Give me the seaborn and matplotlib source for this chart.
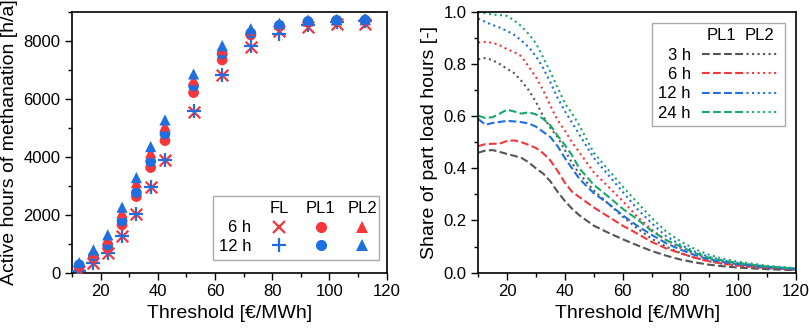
import numpy as np
import pandas as pd
import matplotlib
matplotlib.use("Agg")
import matplotlib.pyplot as plt
import matplotlib.text as mtext
import seaborn as sns
from matplotlib.lines import Line2D
from matplotlib.legend_handler import HandlerBase
from matplotlib.ticker import MultipleLocator, FormatStrFormatter

# --- data: left panel (active hours of methanation)
threshold_pts = [12.5, 17.5, 22.5, 27.5, 32.5, 37.5, 42.5, 52.5, 62.5, 72.5, 82.5, 92.5, 102.5, 112.5]
fl_6h = [40, 325, 670, 1267, 2027, 2948, 3891, 5560, 6826, 7803, 8330, 8494, 8590, 8600]
fl_12h = [40, 330, 680, 1270, 2030, 2950, 3890, 5570, 6840, 7810, 8230, 8560, 8640, 8680]
pl1_6h = [207, 497, 842, 1647, 2625, 3626, 4558, 6215, 7343, 8207, 8500, 8640, 8690, 8700]
pl1_12h = [266, 577, 956, 1785, 2763, 3834, 4789, 6446, 7550, 8270, 8540, 8670, 8710, 8720]
pl2_6h = [290, 670, 1153, 2072, 3108, 4144, 5065, 6653, 7700, 8380, 8580, 8690, 8720, 8730]
pl2_12h = [345, 784, 1302, 2258, 3280, 4351, 5272, 6860, 7838, 8420, 8610, 8720, 8740, 8750]

# --- data: right panel (share of part load hours)
threshold_line = [10, 12.5, 15, 17.5, 20, 22.5, 25, 27.5, 30, 32.5, 35, 37.5, 40, 42.5, 45,
                  50, 55, 60, 65, 70, 75, 80, 85, 90, 95, 100, 110, 120]
pl1_3h = [0.46, 0.468, 0.47, 0.463, 0.455, 0.448, 0.44, 0.423, 0.40, 0.38, 0.35, 0.31, 0.275, 0.245,
          0.22, 0.18, 0.153, 0.128, 0.105, 0.083, 0.065, 0.05, 0.039, 0.03, 0.024, 0.019, 0.013, 0.009]
pl1_6h_share = [0.485, 0.493, 0.494, 0.495, 0.505, 0.507, 0.50, 0.49, 0.478, 0.458, 0.43, 0.39, 0.345, 0.31,
                0.29, 0.25, 0.215, 0.18, 0.15, 0.118, 0.093, 0.074, 0.057, 0.043, 0.034, 0.027, 0.018, 0.012]
pl1_12h_share = [0.59, 0.567, 0.574, 0.578, 0.582, 0.58, 0.577, 0.572, 0.56, 0.54, 0.52, 0.485, 0.44, 0.40,
                 0.36, 0.305, 0.265, 0.22, 0.18, 0.145, 0.113, 0.088, 0.067, 0.05, 0.04, 0.032, 0.02, 0.013]
pl1_24h = [0.602, 0.593, 0.596, 0.61, 0.625, 0.618, 0.61, 0.615, 0.607, 0.59, 0.565, 0.525, 0.49, 0.45,
           0.40, 0.337, 0.292, 0.245, 0.205, 0.16, 0.125, 0.10, 0.075, 0.056, 0.045, 0.036, 0.023, 0.015]
pl2_3h = [0.818, 0.823, 0.815, 0.80, 0.782, 0.765, 0.735, 0.70, 0.655, 0.60, 0.555, 0.52, 0.47, 0.42,
          0.38, 0.315, 0.265, 0.215, 0.17, 0.13, 0.10, 0.075, 0.057, 0.043, 0.033, 0.027, 0.017, 0.011]
pl2_6h_share = [0.883, 0.885, 0.882, 0.872, 0.857, 0.846, 0.83, 0.79, 0.75, 0.70, 0.64, 0.585, 0.545, 0.50,
                0.462, 0.385, 0.33, 0.275, 0.215, 0.165, 0.125, 0.095, 0.072, 0.053, 0.041, 0.032, 0.02, 0.013]
pl2_12h_share = [0.975, 0.962, 0.95, 0.94, 0.927, 0.912, 0.89, 0.865, 0.83, 0.785, 0.73, 0.67, 0.62, 0.575,
                 0.53, 0.44, 0.375, 0.31, 0.245, 0.19, 0.14, 0.107, 0.08, 0.06, 0.046, 0.036, 0.023, 0.015]
pl2_24h = [1.0, 0.995, 0.99, 0.988, 0.985, 0.967, 0.945, 0.915, 0.88, 0.825, 0.77, 0.71, 0.65, 0.61,
           0.565, 0.46, 0.395, 0.33, 0.27, 0.21, 0.158, 0.12, 0.09, 0.068, 0.052, 0.042, 0.026, 0.017]

RED = "#F5363B"
BLUE = "#1F6FE0"
GREEN = "#18A86B"
GRAY = "#555555"


# legend helper: a text used as a legend "handle" (column headers)
class TextHandle:
    def __init__(self, s):
        self.s = s


class HandlerTextHandle(HandlerBase):
    def legend_artist(self, legend, orig_handle, fontsize, handlebox):
        w, h = handlebox.width, handlebox.height
        t = mtext.Text(x=-handlebox.xdescent + w / 2, y=-handlebox.ydescent + h / 2,
                       text=orig_handle.s, ha="center", va="center",
                       fontsize=fontsize, color="black")
        handlebox.add_artist(t)
        return t


sns.set_style("ticks")
plt.rcParams["font.family"] = ["Liberation Sans", "DejaVu Sans"]
for k in ["text.color", "axes.labelcolor", "xtick.color", "ytick.color", "axes.edgecolor"]:
    plt.rcParams[k] = "black"

fig = plt.figure(figsize=(8.09, 3.32), dpi=100)
ax1 = fig.add_axes([0.089, 0.179, 0.389, 0.785])
ax2 = fig.add_axes([0.591, 0.179, 0.393, 0.785])

# --- left: scatter points
scatter_series = [
    (fl_6h, RED, "x", 70, 1.6),
    (fl_12h, BLUE, "+", 90, 1.6),
    (pl1_6h, RED, "o", 60, 0),
    (pl1_12h, BLUE, "o", 60, 0),
    (pl2_6h, RED, "^", 65, 0),
    (pl2_12h, BLUE, "^", 65, 0),
]
for vals, col, mk, size, lw in scatter_series:
    df = pd.DataFrame({"threshold": threshold_pts, "hours": vals})
    sns.scatterplot(data=df, x="threshold", y="hours", ax=ax1, color=col, marker=mk,
                    s=size, linewidth=lw, edgecolor=col if lw else "none", zorder=3)

ax1.set_xlim(10, 120)
ax1.set_ylim(0, 9000)
ax1.xaxis.set_major_locator(MultipleLocator(20))
ax1.xaxis.set_minor_locator(MultipleLocator(10))
ax1.yaxis.set_major_locator(MultipleLocator(2000))
ax1.yaxis.set_minor_locator(MultipleLocator(1000))
ax1.set_xlabel("Threshold [€/MWh]", fontsize=14)
ax1.set_ylabel("Active hours of methanation [h/a]", fontsize=14)

h_left = [
    TextHandle("FL"),
    Line2D([], [], ls="none", marker="x", color=RED, ms=9, mew=1.6),
    Line2D([], [], ls="none", marker="+", color=BLUE, ms=10, mew=1.6),
    TextHandle("PL1"),
    Line2D([], [], ls="none", marker="o", color=RED, ms=8, mew=0),
    Line2D([], [], ls="none", marker="o", color=BLUE, ms=8, mew=0),
    TextHandle("PL2"),
    Line2D([], [], ls="none", marker="^", color=RED, ms=8.5, mew=0),
    Line2D([], [], ls="none", marker="^", color=BLUE, ms=8.5, mew=0),
]
l_left = ["", "6 h", "12 h", "", "", "", "", "", ""]
ax1.legend(h_left, l_left, ncol=3, markerfirst=False,
           handler_map={TextHandle: HandlerTextHandle()},
           loc="lower right", bbox_to_anchor=(0.975, 0.05), fontsize=12,
           frameon=True, fancybox=False, edgecolor="#aaaaaa", framealpha=1,
           handlelength=1.3, handletextpad=1.0, columnspacing=0.2,
           labelspacing=0.2, borderpad=0.35, borderaxespad=0.0)

# --- right: lines
line_series = [
    (pl1_3h, GRAY, "--"), (pl2_3h, GRAY, ":"),
    (pl1_6h_share, RED, "--"), (pl2_6h_share, RED, ":"),
    (pl1_12h_share, BLUE, "--"), (pl2_12h_share, BLUE, ":"),
    (pl1_24h, GREEN, "--"), (pl2_24h, GREEN, ":"),
]
for vals, col, ls in line_series:
    df = pd.DataFrame({"threshold": threshold_line, "share": vals})
    sns.lineplot(data=df, x="threshold", y="share", ax=ax2, color=col, linestyle=ls,
                 linewidth=1.5)

ax2.set_xlim(10, 120)
ax2.set_ylim(0, 1.0)
ax2.xaxis.set_major_locator(MultipleLocator(20))
ax2.xaxis.set_minor_locator(MultipleLocator(10))
ax2.yaxis.set_major_locator(MultipleLocator(0.2))
ax2.yaxis.set_minor_locator(MultipleLocator(0.1))
ax2.yaxis.set_major_formatter(FormatStrFormatter("%.1f"))
ax2.set_xlabel("Threshold [€/MWh]", fontsize=14)
ax2.set_ylabel("Share of part load hours [-]", fontsize=14)

h_right = [TextHandle("PL1")]
l_right = [""]
for lab, col in [("3 h", GRAY), ("6 h", RED), ("12 h", BLUE), ("24 h", GREEN)]:
    h_right.append(Line2D([], [], color=col, ls="--", lw=1.5))
    l_right.append(lab)
h_right.append(TextHandle("PL2"))
l_right.append("")
for col in [GRAY, RED, BLUE, GREEN]:
    h_right.append(Line2D([], [], color=col, ls=":", lw=1.5))
    l_right.append("")
ax2.legend(h_right, l_right, ncol=2, markerfirst=False,
           handler_map={TextHandle: HandlerTextHandle()},
           loc="upper right", bbox_to_anchor=(0.965, 0.957), fontsize=12,
           frameon=True, fancybox=False, edgecolor="#aaaaaa", framealpha=1,
           handlelength=2.3, handletextpad=0.7, columnspacing=-0.7,
           labelspacing=0.25, borderpad=0.35, borderaxespad=0.0)

for ax in (ax1, ax2):
    for sp in ax.spines.values():
        sp.set_visible(True)
        sp.set_linewidth(1.2)
        sp.set_color("black")
    ax.tick_params(axis="both", which="major", labelsize=12, length=5, width=1.0,
                   top=False, right=False)
    ax.tick_params(axis="both", which="minor", length=3, width=1.0, top=False, right=False)
    ax.grid(False)

fig.savefig("out.png", dpi=100)
